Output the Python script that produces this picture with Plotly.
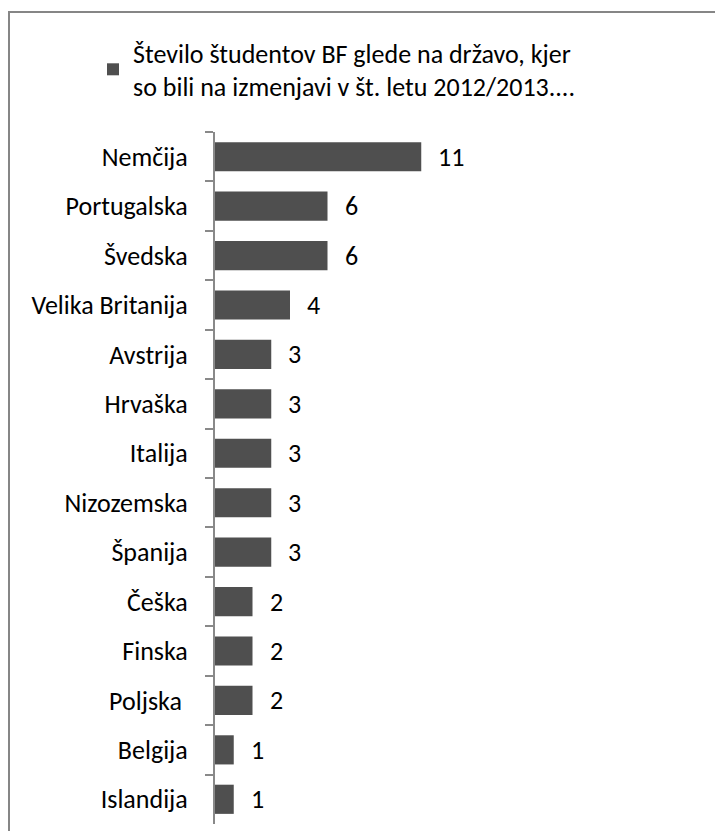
import plotly.graph_objects as go

countries = ["Nemčija", "Portugalska", "Švedska", "Velika Britanija", "Avstrija",
             "Hrvaška", "Italija", "Nizozemska", "Španija", "Češka", "Finska",
             "Poljska\u00a0", "Belgija", "Islandija"]
students = [11, 6, 6, 4, 3, 3, 3, 3, 3, 2, 2, 2, 1, 1]
series_name = "Število študentov BF glede na državo, kjer<br>so bili na izmenjavi v št. letu 2012/2013...."

W, H = 723, 831
L, R, T, B = 207, 23, 124, 15
pw, ph = W - L - R, H - T - B
FONT = "Carlito, Calibri, Lato, sans-serif"
FS = 26

fig = go.Figure()
fig.add_trace(go.Bar(
    y=countries, x=students, orientation="h",
    name=series_name,
    marker=dict(color="#4f4f4f", line=dict(width=0)),
    showlegend=True,
))

for c, v in zip(countries, students):
    fig.add_annotation(x=v, y=c, text=str(v), showarrow=False,
                       xanchor="left", xshift=15,
                       font=dict(family=FONT, size=FS, color="#000000"))

def px_x(p):
    return (p - L) / pw

def px_y(p):
    return (H - B - p) / ph

fig.add_shape(type="rect", xref="paper", yref="paper",
              x0=px_x(1), x1=px_x(740), y0=px_y(850), y1=px_y(4),
              line=dict(color="#868686", width=2), fillcolor="rgba(0,0,0,0)")

fig.update_layout(
    width=W, height=H,
    margin=dict(l=L, r=R, t=T, b=B, autoexpand=False),
    paper_bgcolor="white", plot_bgcolor="white",
    bargap=0.41,
    font=dict(family=FONT, size=FS, color="#000000"),
    legend=dict(x=px_x(85), y=px_y(21), xanchor="left", yanchor="top",
                font=dict(family=FONT, size=FS, color="#000000"),
                bgcolor="rgba(0,0,0,0)"),
    xaxis=dict(range=[0, pw / 18.75], visible=False, fixedrange=True),
    yaxis=dict(type="category", categoryorder="array", categoryarray=countries,
               autorange="reversed", showline=True, linecolor="#898989", linewidth=2,
               ticks="outside", ticklen=8, tickwidth=2, tickcolor="#898989",
               ticklabelstandoff=20, showgrid=False, zeroline=False,
               tickson="boundaries",
               tickfont=dict(family=FONT, size=FS, color="#000000")),
)

fig.write_html("out.html")
